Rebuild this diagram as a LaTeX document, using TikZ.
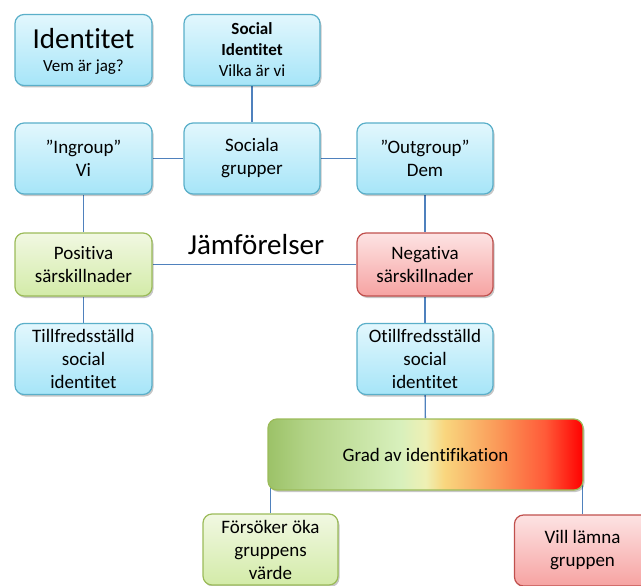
\documentclass[tikz,border=0pt]{standalone}
\usepackage{fontspec}
\setmainfont{Carlito}[Ligatures=NoCommon]
\usetikzlibrary{shadows,backgrounds}

\definecolor{bluetop}{HTML}{E2F7FD}
\definecolor{bluebot}{HTML}{A6E5F8}
\definecolor{blueedge}{HTML}{5AAFC9}
\definecolor{greentop}{HTML}{F1F8E2}
\definecolor{greenbot}{HTML}{D3EBA8}
\definecolor{greenedge}{HTML}{9BBB59}
\definecolor{redtop}{HTML}{FDE3E3}
\definecolor{redbot}{HTML}{F6A3A2}
\definecolor{rededge}{HTML}{C0504D}
\definecolor{linkblue}{HTML}{4F81BD}

% green -> yellow -> red scale for the identification bar
\definecolor{gA}{HTML}{9CC268}
\definecolor{gB}{HTML}{B2D386}
\definecolor{gC}{HTML}{D8F0BC}
\definecolor{gD}{HTML}{EEF0B4}
\definecolor{gE}{HTML}{F9D67E}
\definecolor{gF}{HTML}{FA9C5A}
\definecolor{gG}{HTML}{FF5A38}
\definecolor{gH}{HTML}{FF0000}
\pgfdeclarehorizontalshading{identscale}{100bp}{%
  color(0bp)=(gA); color(25bp)=(gA); color(31bp)=(gB); color(46bp)=(gC);
  color(50bp)=(gD); color(53bp)=(gE); color(61bp)=(gF); color(69bp)=(gG);
  color(75bp)=(gH); color(100bp)=(gH)}

\tikzset{
  box/.style={rounded corners=9pt, minimum width=137pt, minimum height=71pt,
    align=center, inner sep=2pt, line width=1.2pt,
    font=\fontsize{19}{23}\selectfont,
    drop shadow={shadow xshift=1.5pt, shadow yshift=-2pt, opacity=0.22, fill=black}},
  bluebox/.style={box, draw=blueedge, top color=bluetop, bottom color=bluebot},
  greenbox/.style={box, draw=greenedge, top color=greentop, bottom color=greenbot},
  redbox/.style={box, draw=rededge, top color=redtop, bottom color=redbot},
  link/.style={draw=linkblue, line width=1.4pt},
  plain/.style={inner sep=0pt}
}

\begin{document}
\begin{tikzpicture}[x=1pt,y=-1pt]
\useasboundingbox (0,0) rectangle (641,586);

% top row
\node[bluebox] (identitet) at (83.5,50) {};
\node[plain, anchor=base, font=\fontsize{29}{29}\selectfont] (idtitle) at (83.5,49) {Identitet};
\node[plain, anchor=base, font=\fontsize{17}{21}\selectfont] (idsub) at (83.5,72) {Vem är jag?};
\node[bluebox, minimum width=136pt, font=\fontsize{17}{21}\selectfont] (socid) at (252,50)
  {\textbf{Social}\\\textbf{Identitet}\\Vilka är vi};

% groups
\node[bluebox] (ingroup) at (83.5,158.5) {”Ingroup”\\Vi};
\node[bluebox, minimum width=136pt] (sociala) at (252,158.5) {Sociala\\grupper};
\node[bluebox, minimum width=136pt] (outgroup) at (425,158.5) {”Outgroup”\\Dem};

% comparisons
\node[greenbox, minimum height=63pt] (positiva) at (83.5,264.5) {Positiva\\särskillnader};
\node[redbox, minimum width=136pt, minimum height=63pt] (negativa) at (425,264.5) {Negativa\\särskillnader};
\node[plain, anchor=base, font=\fontsize{29}{29}\selectfont] (jamf) at (256,254) {Jämförelser};

% outcomes
\node[bluebox] (tillfreds) at (83.5,359) {Tillfredsställd\\social\\identitet};
\node[bluebox, minimum width=136pt] (otillfreds) at (425,359) {Otillfredsställd\\social\\identitet};

\node[box, draw=greenedge, shading=identscale, minimum width=315pt] (grad) at (425.5,454.5)
  {Grad av identifikation};

\node[greenbox, minimum width=135pt] (forsoker) at (270.5,549.5) {Försöker öka\\gruppens\\värde};
\node[redbox, minimum width=136pt] (vill) at (582.5,550.5) {Vill lämna\\gruppen};

% connectors
\begin{scope}[on background layer]
  \draw[link] (socid) -- (sociala);
  \draw[link] (ingroup) -- (sociala);
  \draw[link] (sociala) -- (outgroup);
  \draw[link] (ingroup) -- (positiva);
  \draw[link] (outgroup) -- (negativa);
  \draw[link] (positiva) -- (negativa);
  \draw[link] (positiva) -- (tillfreds);
  \draw[link] (negativa) -- (otillfreds);
  \draw[link] (otillfreds) -- (grad);
  \draw[link] (forsoker.north) -- (forsoker.north |- grad.center);
  \draw[link] (vill.north) -- (vill.north |- grad.center);
\end{scope}
\end{tikzpicture}
\end{document}
